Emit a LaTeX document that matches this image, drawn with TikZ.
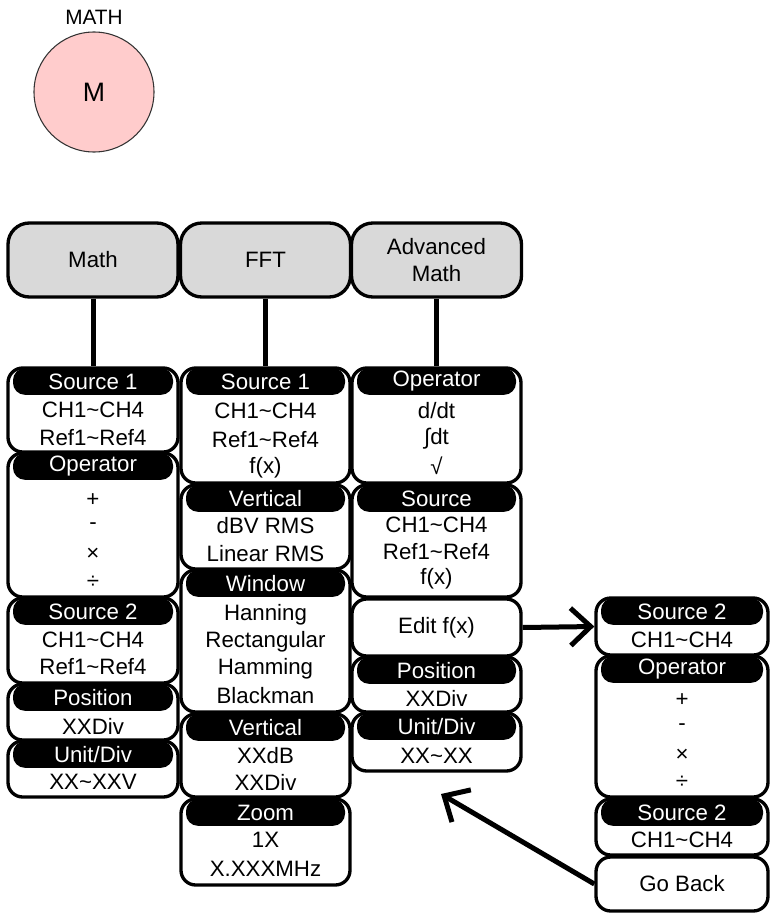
\documentclass[tikz,border=0pt]{standalone}
\usepackage{fontspec}
\setmainfont{Liberation Sans}
\usetikzlibrary{arrows.meta}
\definecolor{hdrgray}{HTML}{D9D9D9}
\definecolor{pinkfill}{HTML}{FFCCCC}
\newcommand\mytilde{\textasciitilde}
\newcommand\frm[5]{\node[frm, minimum width={(#4-#2)*0.75pt}, minimum height={(#5-#3)*0.75pt}] (#1) at ({(#2+#4)/2},{(#3+#5)/2}) {};}
\newcommand\hdr[5]{\node[hdrband, minimum width={(#4-#2-10)*0.75pt}] (#1) at ({(#2+#4)/2},{#3+13.5}) {#5};}
\newcommand\tline[4]{\node[txt] (#1) at (#2,#3) {#4};}
\begin{document}
\begin{tikzpicture}[x=0.75pt,y=-0.75pt,
  every node/.style={font=\fontsize{16.7}{20}\selectfont},
  frm/.style={draw=black, line width=2.5pt, fill=white, rounded corners=11pt, inner sep=0pt},
  topbox/.style={draw=black, line width=2.5pt, fill=hdrgray, rounded corners=16pt, inner sep=0pt,
     minimum width=127.5pt, minimum height=55.5pt, align=center},
  hdrband/.style={fill=black, text=white, rounded corners=9pt, minimum height=20pt, inner sep=0pt},
  txt/.style={inner sep=0pt, text=black},
  conn/.style={line width=3.75pt},
  arr/.style={line width=3.75pt, -{Straight Barb[length=15pt,width=28pt,line width=3.75pt]}}
]
\useasboundingbox (0,0) rectangle (771,913);

% MATH circle
\node[txt, font=\fontsize{15.6}{18}\selectfont] (mathlbl) at (94,17) {MATH};
\node[circle, draw=black!80, line width=0.8pt, fill=pinkfill, minimum size=90pt, inner sep=0pt,
  font=\fontsize{20}{24}\selectfont] (mcirc) at (94,92) {M};

% top boxes
\node[topbox] (hMath) at (93,260) {Math};
\node[topbox] (hFFT) at (265.5,260) {FFT};
\node[topbox] (hAdv) at (436.5,260) {Advanced\\Math};

% column 1
\frm{c1a}{8}{368}{178}{452}
\hdr{c1ah}{8}{368}{178}{Source 1}
\tline{c1a1}{93}{410}{CH1\mytilde CH4}
\tline{c1a2}{93}{438}{Ref1\mytilde Ref4}
\frm{c1b}{8}{453}{178}{597}
\hdr{c1bh}{8}{453}{178}{Operator}
\tline{c1b1}{93}{500}{+}
\tline{c1b2}{93}{526}{-}
\tline{c1b3}{93}{554}{×}
\tline{c1b4}{93}{582}{÷}
\frm{c1c}{8}{598}{178}{683}
\hdr{c1ch}{8}{598}{178}{Source 2}
\tline{c1c1}{93}{640}{CH1\mytilde CH4}
\tline{c1c2}{93}{667}{Ref1\mytilde Ref4}
\frm{c1d}{8}{684}{178}{740}
\hdr{c1dh}{8}{684}{178}{Position}
\tline{c1d1}{93}{726}{XXDiv}
\frm{c1e}{8}{741}{178}{797}
\hdr{c1eh}{8}{741}{178}{Unit/Div}
\tline{c1e1}{93}{782}{XX\mytilde XXV}

% column 2
\frm{c2a}{181}{368}{350}{483}
\hdr{c2ah}{181}{368}{350}{Source 1}
\tline{c2a1}{265.5}{411}{CH1\mytilde CH4}
\tline{c2a2}{265.5}{440}{Ref1\mytilde Ref4}
\tline{c2a3}{265.5}{468}{f(x)}
\frm{c2b}{181}{485}{350}{569}
\hdr{c2bh}{181}{485}{350}{Vertical}
\tline{c2b1}{265.5}{526}{dBV RMS}
\tline{c2b2}{265.5}{554}{Linear RMS}
\frm{c2c}{181}{570}{350}{712}
\hdr{c2ch}{181}{570}{350}{Window}
\tline{c2c1}{265.5}{615}{Hanning}
\tline{c2c2}{265.5}{642}{Rectangular}
\tline{c2c3}{265.5}{669}{Hamming}
\tline{c2c4}{265.5}{696}{Blackman}
\frm{c2d}{181}{714}{350}{797}
\hdr{c2dh}{181}{714}{350}{Vertical}
\tline{c2d1}{265.5}{756}{XXdB}
\tline{c2d2}{265.5}{782}{XXDiv}
\frm{c2e}{181}{799}{350}{885}
\hdr{c2eh}{181}{799}{350}{Zoom}
\tline{c2e1}{265.5}{840}{1X}
\tline{c2e2}{265.5}{869}{X.XXXMHz}

% column 3
\frm{c3a}{352}{368}{521}{483}
\hdr{c3ah}{352}{368}{521}{Operator}
\tline{c3a1}{436.5}{411}{d/dt}
\tline{c3a2}{436.5}{439}{∫dt}
\tline{c3a3}{436.5}{466}{√}
\frm{c3b}{352}{485}{521}{597}
\hdr{c3bh}{352}{485}{521}{Source}
\tline{c3b1}{436.5}{525}{CH1\mytilde CH4}
\tline{c3b2}{436.5}{552}{Ref1\mytilde Ref4}
\tline{c3b3}{436.5}{579}{f(x)}
\frm{c3c}{352}{599}{521}{656}
\tline{c3c1}{436.5}{628}{Edit f(x)}
\frm{c3d}{352}{657}{521}{712}
\hdr{c3dh}{352}{657}{521}{Position}
\tline{c3d1}{436.5}{698}{XXDiv}
\frm{c3e}{352}{713}{521}{771}
\hdr{c3eh}{352}{713}{521}{Unit/Div}
\tline{c3e1}{436.5}{756}{XX\mytilde XX}

% right column
\frm{r1}{596}{598}{768}{655}
\hdr{r1h}{596}{598}{768}{Source 2}
\tline{r11}{682}{640}{CH1\mytilde CH4}
\frm{r2}{596}{656}{768}{797}
\hdr{r2h}{596}{656}{768}{Operator}
\tline{r21}{682}{700}{+}
\tline{r22}{682}{727}{-}
\tline{r23}{682}{755}{×}
\tline{r24}{682}{782}{÷}
\frm{r3}{596}{799}{768}{855}
\hdr{r3h}{596}{799}{768}{Source 2}
\tline{r31}{682}{840}{CH1\mytilde CH4}
\frm{r4}{596}{857}{768}{911}
\tline{r41}{682}{884}{Go Back}

% connectors
\draw[conn] (hMath.south) -- (c1a.north);
\draw[conn] (hFFT.south) -- (c2a.north);
\draw[conn] (hAdv.south) -- (c3a.north);
\draw[arr] (c3c.east) -- (r1.west);
\coordinate (backtip) at (441,794);
\draw[arr] (r4.west) -- (backtip);
\end{tikzpicture}
\end{document}
